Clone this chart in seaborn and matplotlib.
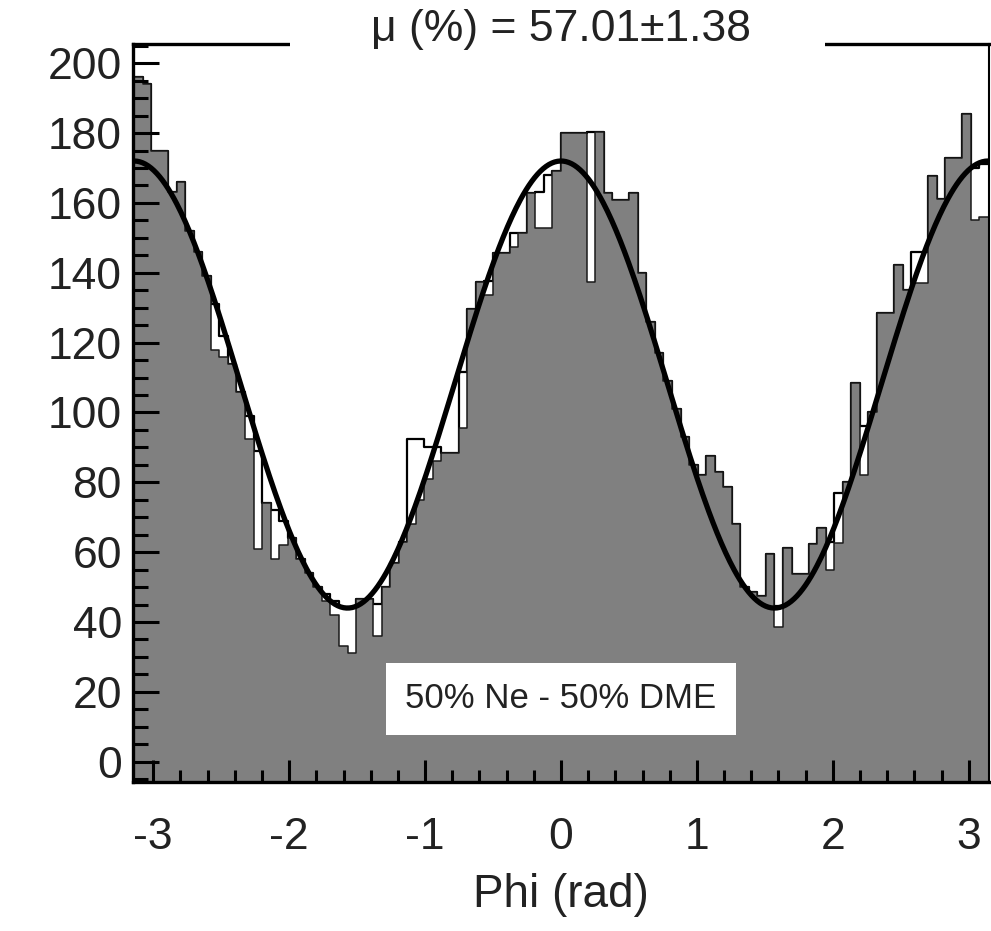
import numpy as np
import pandas as pd
import matplotlib
matplotlib.use("Agg")
import matplotlib.pyplot as plt
from matplotlib.ticker import MultipleLocator, FixedLocator
from matplotlib.patches import Rectangle
import seaborn as sns

# ---- data (100 bins over [-pi, pi]) ----
n_bins = 100
gray_counts = [
    196, 194, 175, 175, 163, 166, 152, 146, 139, 118,
    116, 114, 106, 92.5, 61, 74, 58, 62, 64, 58,
    54, 50, 46, 42, 33, 31, 46.5, 46.5, 36, 50,
    57, 63, 68, 75, 81, 86, 88.4, 88.4, 95.5, 129.5,
    137.5, 133.7, 145.6, 145.6, 147.5, 151.3, 162.8, 152.7, 152.7, 169,
    180, 180, 180, 137.5, 180.4, 162.8, 160.9, 160.9, 162.8, 140,
    126, 117, 109, 101, 93, 85, 82, 87.6, 83, 78.6,
    68, 50, 48.5, 47.4, 59.5, 38.6, 61.2, 53.7, 53.7, 62.2,
    66.8, 55, 62.7, 80, 108.5, 82, 100, 128.6, 128.6, 142.2,
    135, 137, 137, 167.8, 161.2, 172.8, 172.8, 185.4, 155, 156,
]
outline_counts = [
    196, 194, 175, 175, 163, 166, 152, 146, 139, 131,
    122, 114, 106, 99, 89, 74, 72, 69, 64, 58,
    54, 50, 48, 46, 44.2, 44.2, 46.5, 46.5, 45.2, 50,
    57, 63, 92.5, 92.5, 90, 90, 88.4, 88.4, 111.6, 129.5,
    137.5, 137.7, 145.6, 145.6, 151.3, 151.3, 162.8, 163, 168, 169,
    180, 180, 180, 180.4, 180.4, 162.8, 160.9, 160.9, 162.8, 140,
    126, 117, 109, 101, 93, 85, 82, 87.6, 83, 78.6,
    68, 50, 48.5, 47.4, 59.5, 44.7, 61.2, 53.7, 53.7, 62.2,
    66.8, 63, 77, 80, 108.5, 96, 100, 128.6, 128.6, 142.2,
    135, 146, 146, 167.8, 161.2, 172.8, 172.8, 185.4, 170, 171,
]
# fitted modulation curve  N(phi) = mean + amplitude * cos(2 phi)
fit_mean = 108.0
fit_amplitude = 64.0

x_ticks = [-3, -2, -1, 0, 1, 2, 3]
y_ticks = [0, 20, 40, 60, 80, 100, 120, 140, 160, 180, 200]
title_text = "\u03bc (%) = 57.01\u00b11.38"
x_label = "Phi (rad)"
box_text = "50% Ne - 50% DME"

GRAY = "#808080"
y_bottom, y_top = -5.8, 205.5

edges = np.linspace(-np.pi, np.pi, n_bins + 1)
centers = 0.5 * (edges[:-1] + edges[1:])
df = pd.DataFrame({"phi": centers, "gray": gray_counts, "outline": outline_counts})

phi_grid = np.linspace(-np.pi, np.pi, 600)
fit_df = pd.DataFrame({"phi": phi_grid,
                       "fit": fit_mean + fit_amplitude * np.cos(2 * phi_grid)})

sns.set_theme(style="white")
plt.rcParams["font.family"] = ["Liberation Sans", "DejaVu Sans"]
plt.rcParams["axes.unicode_minus"] = False

fig = plt.figure(figsize=(9.91, 9.31), dpi=100)
ax = fig.add_axes([133 / 991, 1 - 782 / 931, 856 / 991, 738 / 931])

# second histogram (black outline), partly hidden behind the filled one
sns.histplot(data=df, x="phi", weights="outline", bins=n_bins,
             binrange=(-np.pi, np.pi), element="step",
             fill=False, color="black", linewidth=1.6, ax=ax, zorder=1)
# filled grey histogram
sns.histplot(data=df, x="phi", weights="gray", bins=n_bins,
             binrange=(-np.pi, np.pi), element="step",
             fill=True, color=GRAY, alpha=1.0, linewidth=0, ax=ax, zorder=2)
ax.axhspan(y_bottom, 0, color=GRAY, lw=0, zorder=2)
sns.histplot(data=df, x="phi", weights="gray", bins=n_bins,
             binrange=(-np.pi, np.pi), element="step",
             fill=False, color="#1a1a1a", linewidth=1.1, ax=ax, zorder=2.2)
# fit curve
sns.lineplot(data=fit_df, x="phi", y="fit", color="black", linewidth=3.8,
             ax=ax, zorder=3)

ax.set_xlim(-3.149, 3.149)
ax.set_ylim(y_bottom, y_top)
ax.xaxis.set_major_locator(FixedLocator(x_ticks))
ax.xaxis.set_minor_locator(MultipleLocator(0.2))
ax.yaxis.set_major_locator(FixedLocator(y_ticks))
ax.yaxis.set_minor_locator(MultipleLocator(5))
ax.set_xticklabels([str(t) for t in x_ticks])
ax.set_yticklabels([str(t) for t in y_ticks])

ax.tick_params(axis="both", which="both", direction="in", color="black",
               bottom=True, left=True, top=False, right=False,
               labelcolor="#222222", labelsize=32)
ax.tick_params(axis="y", which="major", length=19, width=2.2, pad=8)
ax.tick_params(axis="y", which="minor", length=11, width=2.2)
ax.tick_params(axis="x", which="major", length=16, width=2.2, pad=25)
ax.tick_params(axis="x", which="minor", length=9, width=2.2)
for t in ax.xaxis.get_major_ticks() + ax.yaxis.get_major_ticks():
    t.tick1line.set_zorder(5)

for side, sp in ax.spines.items():
    sp.set_visible(True)
    sp.set_color("black")
    sp.set_linewidth(2.4)
    sp.set_zorder(6)
ax.spines["right"].set_linewidth(1.5)
ax.set_axisbelow(False)

ax.set_xlabel(x_label, fontsize=33, color="#222222", labelpad=11)
ax.set_ylabel("")

# white gap in the top frame behind the title
ax.add_patch(Rectangle((0.1834, 0.985), 0.625, 0.03, transform=ax.transAxes,
                       facecolor="white", edgecolor="none", clip_on=False,
                       zorder=10))
fig.text(561 / 991, 1 - 29 / 931, title_text, ha="center", va="center",
         fontsize=32, color="#222222", zorder=11)

ax.text(0.5, 0.1125, box_text, transform=ax.transAxes, ha="center",
        va="center", fontsize=25, color="#222222", zorder=12,
        bbox=dict(boxstyle="square,pad=0.55", facecolor="white",
                  edgecolor="none"))

fig.savefig("out.png", dpi=100)
